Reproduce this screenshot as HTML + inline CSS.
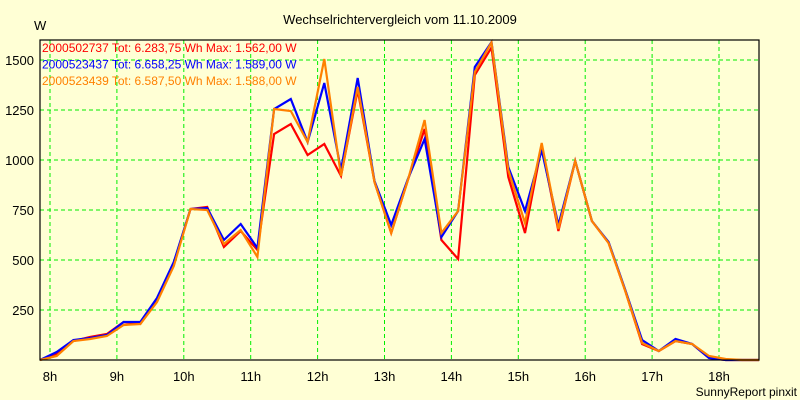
<!DOCTYPE html>
<html><head><meta charset="utf-8"><style>
body{margin:0;background:#ffffd5;}
svg{display:block;font-family:"Liberation Sans",sans-serif;}
</style></head><body>
<svg id="chart" width="800" height="400">
<rect x="0" y="0" width="800" height="400" fill="#ffffd5"/>
<text x="400" y="24" text-anchor="middle" font-size="13">Wechselrichtervergleich vom 11.10.2009</text>
<text x="34" y="30" font-size="13">W</text>
<text x="797" y="396" text-anchor="end" font-size="12">SunnyReport pinxit</text>
<g id="grid"></g><g id="series"></g><g id="axes"></g><g id="legend"></g>
</svg>
<script>
const yTicks=[250,500,750,1000,1250,1500];
const xTickLabels=["8h","9h","10h","11h","12h","13h","14h","15h","16h","17h","18h"];
const startHour=7.85, stepHour=0.25;
const seriesNames=["2000502737","2000523437","2000523439"];
const legendLabels=["2000502737 Tot: 6.283,75 Wh Max: 1.562,00 W","2000523437 Tot: 6.658,25 Wh Max: 1.589,00 W","2000523439 Tot: 6.587,50 Wh Max: 1.588,00 W"];
const colors=["#ff0000","#0000ff","#ff8000"];
const red=[0,30,95,115,130,190,180,300,480,755,765,565,645,550,1130,1180,1025,1080,920,1350,890,635,900,1155,600,505,1425,1562,915,635,1070,645,995,695,585,345,80,45,95,80,10,0,0,0];
const blue=[0,40,100,110,125,190,190,310,490,755,760,600,680,560,1255,1305,1090,1385,950,1410,895,675,905,1105,615,745,1465,1589,965,745,1050,675,995,695,590,350,100,45,105,80,10,0,0,0];
const orange=[0,20,95,105,120,175,180,290,470,755,750,580,650,515,1255,1245,1090,1505,920,1365,890,635,900,1200,635,745,1440,1588,950,685,1085,655,995,695,585,345,85,45,95,80,20,5,0,0];
const L=40,R=759,T=40,B=360,yMax=1600;
const hourPx=66.9, h8x=50;
const xOf=h=>h8x+(h-8)*hourPx;
const yOf=v=>B-v/yMax*(B-T);
const NS="http://www.w3.org/2000/svg";
function mk(tag,parent,attrs){const e=document.createElementNS(NS,tag);for(const k in attrs)e.setAttribute(k,attrs[k]);document.getElementById(parent).appendChild(e);return e;}
yTicks.forEach(v=>{
  const y=yOf(v);
  const g=mk("line","grid",{x1:L,x2:R,y1:y,y2:y,stroke:"#00ee00","stroke-dasharray":"4,3","stroke-width":1});
  
  
  const t=mk("text","axes",{x:34,y:y+5,"text-anchor":"end","font-size":13});
  t.textContent=v;
  
  
});
xTickLabels.forEach((lab,i)=>{
  const x=xOf(8+i);
  const g=mk("line","grid",{x1:x,x2:x,y1:T,y2:B,stroke:"#00ee00","stroke-dasharray":"4,3","stroke-width":1});
  
  
  const t=mk("text","axes",{x:x,y:381,"text-anchor":"middle","font-size":13});
  t.textContent=lab;
  
  
});
const fr=mk("rect","axes",{x:L,y:T,width:R-L,height:B-T,fill:"none",stroke:"#000","stroke-width":1.2});


[red,blue,orange].forEach((arr,si)=>{
  const pts=arr.map((v,i)=>xOf(startHour+i*stepHour).toFixed(1)+","+yOf(v).toFixed(1)).join(" ");
  const p=mk("polyline","series",{points:pts,fill:"none",stroke:colors[si],"stroke-width":2.2,"stroke-linejoin":"miter"});
  
  
});
legendLabels.forEach((lab,i)=>{
  const t=mk("text","legend",{x:42,y:52+i*16.5,"font-size":12,fill:colors[i]});
  t.textContent=lab;
  
  
});
</script>
</body></html>
